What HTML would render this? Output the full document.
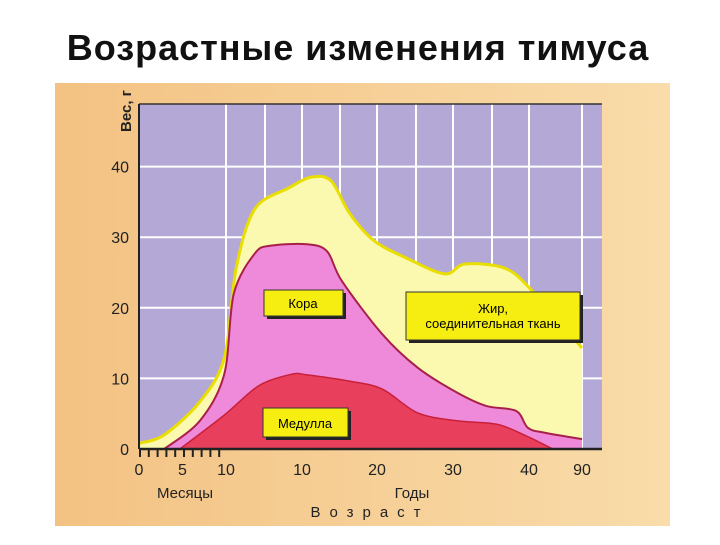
<!DOCTYPE html>
<html><head><meta charset="utf-8"><style>
html,body{margin:0;padding:0;background:#fff;}
body{width:720px;height:540px;overflow:hidden;font-family:"Liberation Sans","Noto Sans CJK SC",sans-serif;}
</style></head><body>
<svg id="c" width="720" height="540" xmlns="http://www.w3.org/2000/svg">
<defs><linearGradient id="pg" x1="0" y1="0" x2="1" y2="0"><stop offset="0" stop-color="#f3c283"/><stop offset="1" stop-color="#f9dcaa"/></linearGradient></defs>
<text x="358" y="60" text-anchor="middle" font-size="36" font-weight="bold" letter-spacing="1" fill="#111">Возрастные изменения тимуса</text>
<rect x="55" y="83" width="615" height="443" fill="url(#pg)"/>
<rect x="139" y="104" width="463" height="345" fill="#b4a9d6"/>
<g id="grid"></g>
<g id="areas"></g>
<line x1="139" y1="104" x2="602" y2="104" stroke="#333" stroke-width="1.5"/>
<line x1="139" y1="104" x2="139" y2="449" stroke="#222" stroke-width="2"/>
<line x1="139" y1="449" x2="602" y2="449" stroke="#222" stroke-width="2.5"/>
<g id="ticks"></g>
<text transform="translate(131,132) rotate(-90)" font-size="15" font-weight="bold" fill="#222">Вес, г</text>
<g><rect x="267" y="293" width="79" height="26" fill="#222"/><rect x="264" y="290" width="79" height="26" fill="#f6ee10" stroke="#333"/><text x="303" y="308" text-anchor="middle" font-size="13">Кора</text></g>
<g><rect x="409" y="295" width="174" height="48" fill="#222"/><rect x="406" y="292" width="174" height="48" fill="#f6ee10" stroke="#333"/><text x="493" y="313" text-anchor="middle" font-size="13">Жир,</text><text x="493" y="328" text-anchor="middle" font-size="13">соединительная ткань</text></g>
<g><rect x="266" y="411" width="85" height="29" fill="#222"/><rect x="263" y="408" width="85" height="29" fill="#f6ee10" stroke="#333"/><text x="305" y="428" text-anchor="middle" font-size="13">Медулла</text></g>
<text x="185" y="498" text-anchor="middle" font-size="15" fill="#222">Месяцы</text>
<text x="412" y="498" text-anchor="middle" font-size="15" fill="#222">Годы</text>
<text x="370" y="517" text-anchor="middle" font-size="15" letter-spacing="9" fill="#222">Возраст</text>
</svg>
<script>
// x positions in grid units (0 = birth, 1 = 10 months, 3..9 = 10..40 years, 10 = 90 years)
const xTickLabels = ["0","5","10","10","20","30","40","90"];
const xTickUnits = [0,0.5,1,3,5,7,9,10];
const yTicks = [0,10,20,30,40];
const fatX = [0,0.29,0.7,0.98,1.26,1.74,2.65,3.24,3.76,4.27,4.92,5.77,6.78,7.31,8.35,9.06,10];
const fatY = [0.8,2,6.7,12.9,25.6,34,37,38.5,38,33.3,29.5,27,24.8,26.2,25.6,22.4,14.3];
const cortexX = [0.29,0.7,0.98,1.2,1.74,2.16,3.13,3.66,4.05,5.13,6.05,7.1,7.85,8.65,8.97,9.3,10];
const cortexY = [0,4,10.6,22,27.7,28.8,29,28,23.8,16.3,11.5,8,6.1,5.4,3,2.3,1.4];
const medullaX = [0.47,0.98,1.85,2.73,3.13,4.27,5.13,6.05,7.1,8.13,8.87,9.45];
const medullaY = [0,4.8,9,10.6,10.5,9.6,8.5,5.1,4,3.5,2,0];
const gridUnits=[0,1,2,3,4,5,6,7,8,9,10];
const gridPx=[139,226,265,302,340,377,416,453,492,529,582];
function xs(u){const i=Math.min(Math.floor(u),9);return gridPx[i]+(u-i)*(gridPx[i+1]-gridPx[i]);}
function ys(v){return 449-v*7.06;}
const NS="http://www.w3.org/2000/svg";
function mk(t,a,p){const e=document.createElementNS(NS,t);for(const k in a)e.setAttribute(k,a[k]);p.appendChild(e);return e;}
const grid=document.getElementById('grid');
gridUnits.slice(1).forEach(u=>{const l=mk('line',{x1:xs(u),x2:xs(u),y1:104,y2:449,stroke:'#fff','stroke-width':2},grid);

});
yTicks.slice(1).forEach(v=>{const l=mk('line',{x1:139,x2:602,y1:ys(v),y2:ys(v),stroke:'#fff','stroke-width':2},grid);

});
function smooth(P){let d='M'+P[0][0]+','+P[0][1];
for(let i=0;i<P.length-1;i++){const p0=P[Math.max(i-1,0)],p1=P[i],p2=P[i+1],p3=P[Math.min(i+2,P.length-1)];
const t=0.16;d+=' C'+(p1[0]+(p2[0]-p0[0])*t)+','+(p1[1]+(p2[1]-p0[1])*t)+' '+(p2[0]-(p3[0]-p1[0])*t)+','+(p2[1]-(p3[1]-p1[1])*t)+' '+p2[0]+','+p2[1];}
return d;}
function area(X,Y,fill,stroke,sw,name){
const P=X.map((x,i)=>[xs(x),ys(Y[i])]);
const s=smooth(P);
const d=s+' L'+xs(X[X.length-1])+','+ys(0)+' L'+xs(X[0])+','+ys(0)+'Z';
const a=mk('path',{d:d,fill:fill},document.getElementById('areas'));


const l=mk('path',{d:s,fill:'none',stroke:stroke,'stroke-width':sw,'stroke-linejoin':'round'},document.getElementById('areas'));

}
area(fatX,fatY,'#fbf9b0','#e9de00',3,'fat');
area(cortexX,cortexY,'#ee8ad9','#a8204a',2,'cortex');
area(medullaX,medullaY,'#e8405c','#c8203a',1.5,'medulla');
const tk=document.getElementById('ticks');
yTicks.forEach(v=>{const t=mk('text',{x:129,y:ys(v)+6,'text-anchor':'end','font-size':16,fill:'#222'},tk);t.textContent=v;

});
for(let i=0;i<10;i++){const l=mk('line',{x1:140+i*8.8,x2:140+i*8.8,y1:449,y2:457,stroke:'#222','stroke-width':2},tk);

}
xTickLabels.forEach((s,i)=>{const t=mk('text',{x:xs(xTickUnits[i]),y:475,'text-anchor':'middle','font-size':16,fill:'#222'},tk);t.textContent=s;

});
</script>
</body></html>
